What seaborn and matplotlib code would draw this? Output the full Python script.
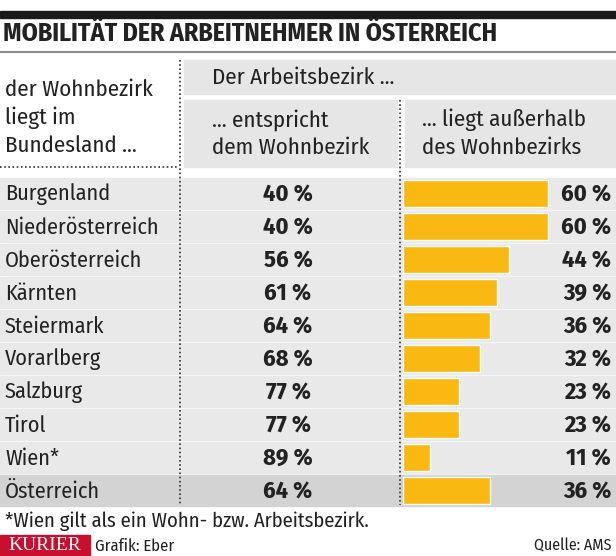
import matplotlib
matplotlib.use('Agg')
import matplotlib.pyplot as plt
import matplotlib.transforms as mtransforms
from matplotlib.patches import Rectangle
from matplotlib import font_manager
import seaborn as sns

# Daten
regionen = ['Burgenland', 'Niederösterreich', 'Oberösterreich', 'Kärnten', 'Steiermark',
            'Vorarlberg', 'Salzburg', 'Tirol', 'Wien*', 'Österreich']
innerhalb = [40, 40, 56, 61, 64, 68, 77, 77, 89, 64]     # entspricht dem Wohnbezirk
ausserhalb = [60, 60, 44, 39, 36, 32, 23, 23, 11, 36]    # liegt außerhalb des Wohnbezirks

sns.set_style('white')

# schmale Schrift suchen, die installiert ist
installiert = {f.name for f in font_manager.fontManager.ttflist}
schrift = 'DejaVu Sans'
for kandidat in ['Fira Sans Condensed', 'Roboto Condensed', 'Open Sans Condensed',
                 'PT Sans Narrow', 'Barlow Semi Condensed', 'Encode Sans Condensed',
                 'Liberation Sans Narrow']:
    if kandidat in installiert:
        schrift = kandidat
        break
plt.rcParams['font.family'] = [schrift, 'DejaVu Sans']

gelb = '#F9B912'
grau_hell = '#E9E9E9'
grau_dunkel = '#D3D3D3'
textfarbe = '#222222'

W, H = 616, 556
fig = plt.figure(figsize=(W / 100, H / 100), dpi=100)

# Hintergrund-Achse in Pixelkoordinaten
bg = fig.add_axes([0, 0, 1, 1])
bg.set_xlim(0, W)
bg.set_ylim(H, 0)
bg.axis('off')

# Achse für die Balken (0 % bei x=403 px, 2.42 px pro %)
x0, top, bottom = 403, 177, 507
ax = fig.add_axes([x0 / W, 1 - bottom / H, (W - x0) / W, (bottom - top) / H])
sns.barplot(x=ausserhalb, y=regionen, orient='h', color=gelb, width=0.83,
            saturation=1, ax=ax, zorder=3)
ax.set_xlim(0, (W - x0) / 2.42)
ax.set_ylim(len(regionen) - 0.5, -0.5)
ax.axis('off')
ax.patch.set_alpha(0)

# Kopfbereich
bg.add_patch(Rectangle((0, 11), W, 7, color='#1a1a1a'))
bg.text(3, 34, 'MOBILITÄT DER ARBEITNEHMER IN ÖSTERREICH', fontsize=18.6, fontweight='bold',
        color=textfarbe, va='center', ha='left')
bg.plot([0, W], [52, 52], color='#8a8a8a', lw=1.5)

bg.add_patch(Rectangle((184, 60), W - 184, 34, color='#E6E6E6'))
bg.add_patch(Rectangle((184, 100), 213, 67, color='#E6E6E6'))
bg.add_patch(Rectangle((405, 100), W - 405, 67, color='#E6E6E6'))

kopf = 16.5
bg.text(212, 78, 'Der Arbeitsbezirk ...', fontsize=kopf, color=textfarbe, va='center')
bg.text(212, 120, '... entspricht', fontsize=kopf, color=textfarbe, va='center')
bg.text(212, 148, 'dem Wohnbezirk', fontsize=kopf, color=textfarbe, va='center')
bg.text(422, 120, '... liegt außerhalb', fontsize=kopf, color=textfarbe, va='center')
bg.text(422, 148, 'des Wohnbezirks', fontsize=kopf, color=textfarbe, va='center')

bg.text(5, 90, 'der Wohnbezirk', fontsize=kopf, color=textfarbe, va='center')
bg.text(5, 118, 'liegt im', fontsize=kopf, color=textfarbe, va='center')
bg.text(5, 146, 'Bundesland ...', fontsize=kopf, color=textfarbe, va='center')

# Zeilen: Hintergrund und Beschriftungen, y aus der Balkenachse
trans = mtransforms.blended_transform_factory(bg.transData, ax.transData)
for i, (reg, inn, aus) in enumerate(zip(regionen, innerhalb, ausserhalb)):
    farbe = grau_dunkel if reg == 'Österreich' else grau_hell
    bg.add_patch(Rectangle((0, i - 0.455), W, 0.91, color=farbe, transform=trans, zorder=0))
    bg.text(5, i + 0.03, reg, fontsize=16, color=textfarbe, va='center', ha='left',
            transform=trans)
    bg.text(288, i + 0.03, f'{inn} %', fontsize=17.5, fontweight='bold', color=textfarbe,
            va='center', ha='center', transform=trans)
    bg.text(611, i + 0.03, f'{aus} %', fontsize=17.5, fontweight='bold', color=textfarbe,
            va='center', ha='right', transform=trans)

# gepunktete Linien
bg.plot([180, 180], [60, 505], color='#333333', lw=1.2, ls=(0, (1, 1.5)), zorder=2)
bg.plot([400, 400], [100, 505], color='#333333', lw=1.2, ls=(0, (1, 1.5)), zorder=2)
bg.plot([0, 179], [167, 167], color='#333333', lw=1.2, ls=(0, (1, 1.5)), zorder=2)

# Fußzeile
bg.text(5, 521, '*Wien gilt als ein Wohn- bzw. Arbeitsbezirk.', fontsize=14.8,
        color=textfarbe, va='center')
bg.add_patch(Rectangle((0, 535), 90, 21, color='#C8102E'))
bg.text(45, 546, 'KURIER', fontsize=14, color='white', family='Liberation Serif',
        va='center', ha='center')
bg.text(95, 546, 'Grafik: Eber', fontsize=12, color=textfarbe, va='center')
bg.text(611, 546, 'Quelle: AMS', fontsize=11.5, color=textfarbe, va='center', ha='right')

fig.savefig('out.png', dpi=100, facecolor='white')
